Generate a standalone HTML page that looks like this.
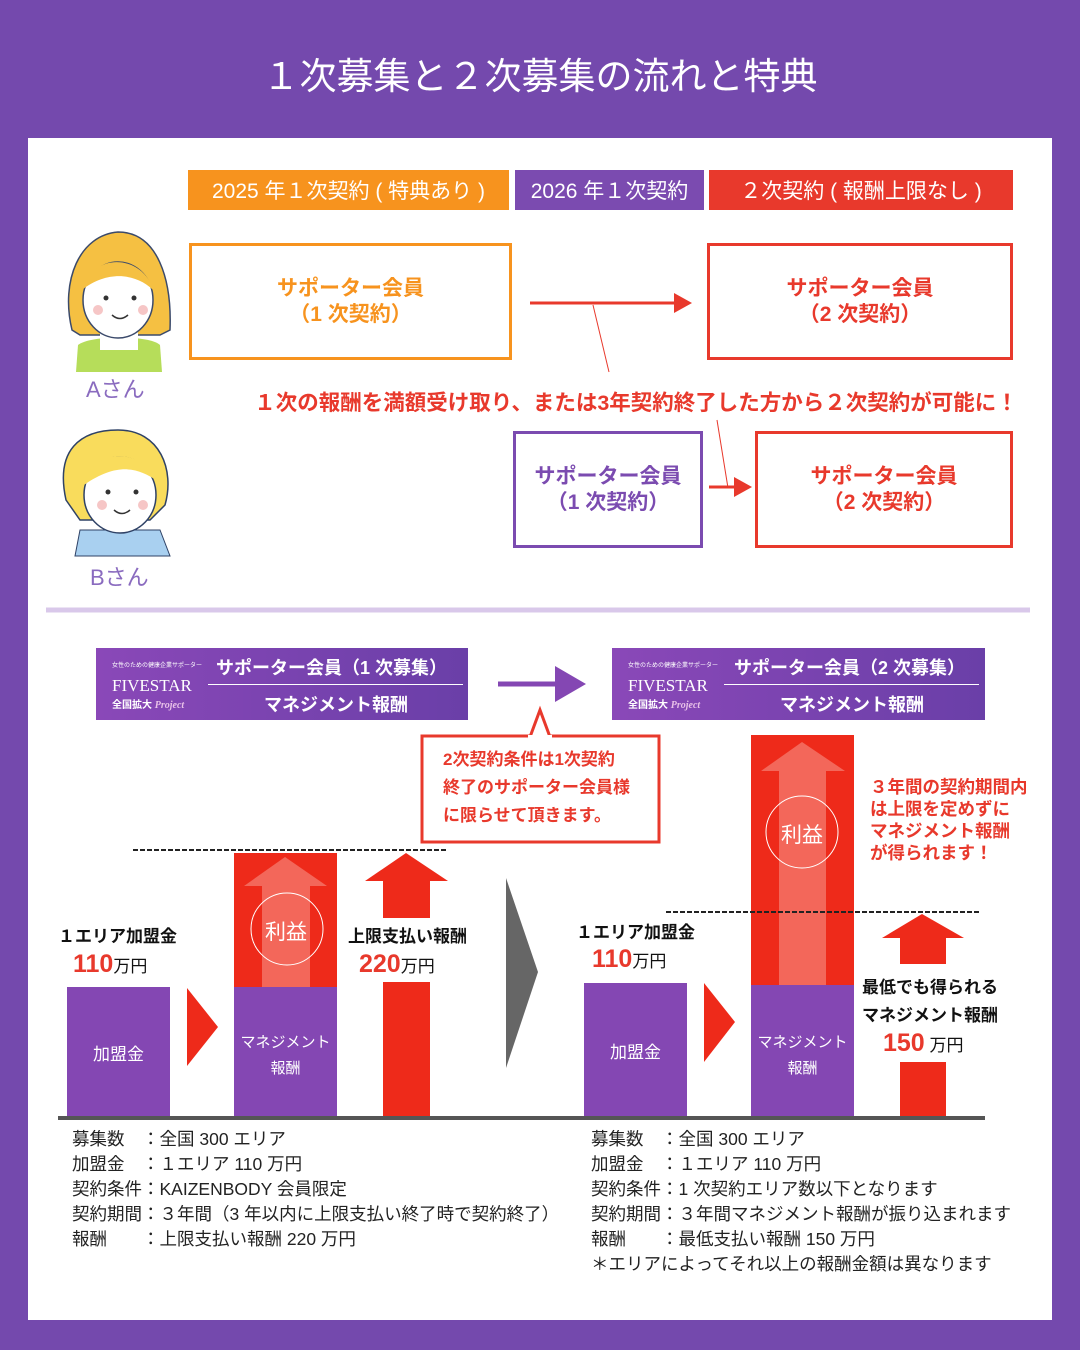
<!DOCTYPE html>
<html><head><meta charset="utf-8"><style>
*{margin:0;padding:0;box-sizing:border-box}
body{width:1080px;height:1350px;background:#7449ad;position:relative;overflow:hidden;font-family:"Liberation Sans","Noto Sans CJK JP",sans-serif}
.a{position:absolute}
.t{white-space:nowrap}
.c{display:flex;align-items:center;justify-content:center;text-align:center}
</style></head><body>
<div class="a t" style="left:0;width:1080px;top:46px;text-align:center;color:#fff;font-size:37px;">１次募集と２次募集の流れと特典</div>
<div class="a" style="left:28px;top:138px;width:1024px;height:1182px;background:#fff"></div>

<div class="a c t" style="left:188px;top:170px;width:321px;height:40px;background:#f7931e;color:#fff;font-size:21px">2025 年１次契約 ( 特典あり )</div>
<div class="a c t" style="left:515px;top:170px;width:189px;height:40px;background:#7b4bb0;color:#fff;font-size:21px">2026 年１次契約</div>
<div class="a c t" style="left:709px;top:170px;width:304px;height:40px;background:#e8392c;color:#fff;font-size:21px">２次契約 ( 報酬上限なし )</div>

<div class="a c" style="left:189px;top:243px;width:323px;height:117px;border:3px solid #f7931e;color:#f7931e;font-size:21px;font-weight:bold;line-height:26px">サポーター会員<br>（1 次契約）</div>
<div class="a c" style="left:707px;top:243px;width:306px;height:117px;border:3px solid #e8392c;color:#e8392c;font-size:21px;font-weight:bold;line-height:26px">サポーター会員<br>（2 次契約）</div>
<div class="a c" style="left:513px;top:431px;width:190px;height:117px;border:3px solid #7b4bb0;color:#7b4bb0;font-size:21px;font-weight:bold;line-height:26px">サポーター会員<br>（1 次契約）</div>
<div class="a c" style="left:755px;top:431px;width:258px;height:117px;border:3px solid #e8392c;color:#e8392c;font-size:21px;font-weight:bold;line-height:26px">サポーター会員<br>（2 次契約）</div>

<svg class="a" style="left:0;top:0" width="1080" height="1350">
<line x1="530" y1="303" x2="676" y2="303" stroke="#e8392c" stroke-width="3"/>
<polygon points="674,293 692,303 674,313" fill="#e8392c"/>
<line x1="593" y1="305" x2="609" y2="372" stroke="#e8392c" stroke-width="1"/>
<line x1="717" y1="420" x2="728" y2="488" stroke="#e8392c" stroke-width="1"/>
<line x1="709" y1="487" x2="736" y2="487" stroke="#e8392c" stroke-width="3"/>
<polygon points="734,477 752,487 734,497" fill="#e8392c"/>
<g>
<path d="M72,330 C60,280 80,235 118,232 C158,232 172,280 170,330 L160,335 L80,335 Z" fill="#f5c042" stroke="#3b4a6b" stroke-width="1.5"/>
<path d="M76,372 L78,345 C90,335 150,335 160,345 L162,372Z" fill="#b6dd5a"/>
<rect x="100" y="330" width="38" height="20" fill="#fff"/>
<ellipse cx="118" cy="300" rx="35" ry="38" fill="#fff" stroke="#3b4a6b" stroke-width="1.5"/>
<path d="M82,290 C90,255 140,250 155,292 C140,275 110,268 82,290Z" fill="#f5c042"/>
<circle cx="106" cy="298" r="2.5" fill="#333"/><circle cx="134" cy="298" r="2.5" fill="#333"/>
<circle cx="98" cy="310" r="5" fill="#f6c6c6"/><circle cx="143" cy="310" r="5" fill="#f6c6c6"/>
<path d="M112,315 Q120,322 128,315" stroke="#333" fill="none" stroke-width="1.5"/>
</g>
<g>
<path d="M66,500 C55,450 80,430 118,430 C160,430 175,470 165,505 L150,520 L80,520 Z" fill="#f9dc5c" stroke="#2f4266" stroke-width="1.5"/>
<path d="M75,556 L80,530 L160,530 L170,556Z" fill="#a9d0f0" stroke="#2f4266" stroke-width="1"/>
<ellipse cx="120" cy="495" rx="36" ry="38" fill="#fff" stroke="#2f4266" stroke-width="1.5"/>
<path d="M84,485 C90,450 140,445 156,480 C140,470 120,460 84,485Z" fill="#f9dc5c"/>
<circle cx="108" cy="492" r="2.5" fill="#333"/><circle cx="136" cy="492" r="2.5" fill="#333"/>
<circle cx="102" cy="505" r="5" fill="#f6c6c6"/><circle cx="143" cy="505" r="5" fill="#f6c6c6"/>
<path d="M114,510 Q122,517 130,510" stroke="#333" fill="none" stroke-width="1.5"/>
</g>
<line x1="46" y1="610" x2="1030" y2="610" stroke="#d9c8ea" stroke-width="5"/>
<line x1="498" y1="684" x2="560" y2="684" stroke="#8447b3" stroke-width="5"/>
<polygon points="555,666 586,684 555,702" fill="#8447b3"/>
<rect x="422" y="736" width="237" height="106" fill="#fff" stroke="#e8392c" stroke-width="3"/>
<polygon points="530,737 540,710 550,737" fill="#fff" stroke="#e8392c" stroke-width="3"/>
<rect x="528" y="735" width="24" height="4" fill="#fff"/>
<line x1="133" y1="850" x2="447" y2="850" stroke="#222" stroke-width="2" stroke-dasharray="5,2"/>
<rect x="67" y="987" width="103" height="130" fill="#8447b3"/>
<polygon points="187,988 218,1027 187,1066" fill="#ee2a1a"/>
<rect x="234" y="853" width="103" height="134" fill="#ee2a1a"/>
<rect x="234" y="987" width="103" height="130" fill="#8447b3"/>
<polygon points="244,886 285,857 327,886 310,886 310,987 262,987 262,886" fill="#f3675a"/>
<circle cx="287" cy="929" r="36" fill="none" stroke="#fff" stroke-width="1"/>
<polygon points="365,881 406,853 448,881 430,881 430,918 383,918 383,881" fill="#ee2a1a"/>
<rect x="383" y="982" width="47" height="135" fill="#ee2a1a"/>
<polygon points="506,878 538,972 506,1068" fill="#666"/>
<rect x="584" y="983" width="103" height="134" fill="#8447b3"/>
<polygon points="704,983 735,1022 704,1062" fill="#ee2a1a"/>
<rect x="751" y="735" width="103" height="250" fill="#ee2a1a"/>
<rect x="751" y="985" width="103" height="132" fill="#8447b3"/>
<polygon points="761,771 802,742 845,771 826,771 826,985 779,985 779,771" fill="#f3675a"/>
<circle cx="802" cy="832" r="36" fill="none" stroke="#fff" stroke-width="1"/>
<line x1="666" y1="912" x2="980" y2="912" stroke="#222" stroke-width="2" stroke-dasharray="5,2"/>
<polygon points="882,938 922,914 964,938 946,938 946,964 900,964 900,938" fill="#ee2a1a"/>
<rect x="900" y="1062" width="46" height="55" fill="#ee2a1a"/>
<line x1="58" y1="1118" x2="985" y2="1118" stroke="#555" stroke-width="4"/>
</svg>

<div class="a t" style="left:86px;top:372px;color:#8a6bbf;font-size:22px">Aさん</div>
<div class="a t" style="left:90px;top:560px;color:#8a6bbf;font-size:22px">Bさん</div>
<div class="a t" style="left:250px;top:386px;width:772px;text-align:center;color:#e8392c;font-size:21.5px;font-weight:bold">１次の報酬を満額受け取り、または3年契約終了した方から２次契約が可能に！</div>

<div class="a" style="left:96px;top:648px;width:372px;height:72px;background:linear-gradient(90deg,#8a48b8,#6a3fa8)">
 <div class="a t" style="left:16px;top:12px;color:#fff;font-size:6px">女性のための健康企業サポーター</div>
 <div class="a t" style="left:16px;top:28px;color:#fff;font-size:17px;font-family:'Liberation Serif',serif">FIVESTAR</div>
 <div class="a t" style="left:16px;top:48px;color:#fff;font-size:10px;font-weight:bold">全国拡大 <i style="color:#e8c0e8;font-family:'Liberation Serif',serif">Project</i></div>
 <div class="a t" style="left:120px;top:6px;color:#fff;font-size:18px;font-weight:bold">サポーター会員（1 次募集）</div>
 <div class="a" style="left:112px;top:36px;width:255px;height:1px;background:#fff"></div>
 <div class="a t" style="left:168px;top:43px;color:#fff;font-size:18px;font-weight:bold">マネジメント報酬</div>
</div>
<div class="a" style="left:612px;top:648px;width:373px;height:72px;background:linear-gradient(90deg,#8a48b8,#6a3fa8)">
 <div class="a t" style="left:16px;top:12px;color:#fff;font-size:6px">女性のための健康企業サポーター</div>
 <div class="a t" style="left:16px;top:28px;color:#fff;font-size:17px;font-family:'Liberation Serif',serif">FIVESTAR</div>
 <div class="a t" style="left:16px;top:48px;color:#fff;font-size:10px;font-weight:bold">全国拡大 <i style="color:#e8c0e8;font-family:'Liberation Serif',serif">Project</i></div>
 <div class="a t" style="left:122px;top:6px;color:#fff;font-size:18px;font-weight:bold">サポーター会員（2 次募集）</div>
 <div class="a" style="left:112px;top:36px;width:255px;height:1px;background:#fff"></div>
 <div class="a t" style="left:168px;top:43px;color:#fff;font-size:18px;font-weight:bold">マネジメント報酬</div>
</div>

<div class="a t" style="left:443px;top:746px;color:#e8392c;font-size:17px;font-weight:bold;line-height:28px">2次契約条件は1次契約<br>終了のサポーター会員様<br>に限らせて頂きます。</div>
<div class="a t" style="left:870px;top:776px;color:#e8392c;font-size:17.5px;font-weight:bold;line-height:22px">３年間の契約期間内<br>は上限を定めずに<br>マネジメント報酬<br>が得られます！</div>

<div class="a t" style="left:58px;top:922px;font-size:17px;font-weight:bold;color:#111">１エリア加盟金</div>
<div class="a t" style="left:73px;top:950px;color:#111;font-size:17px"><b style="color:#e8392c;font-size:25px">110</b>万円</div>
<div class="a c" style="left:67px;top:987px;width:103px;height:130px;color:#fff;font-size:17px">加盟金</div>
<div class="a t" style="left:265px;top:916px;color:#fff;font-size:21px">利益</div>
<div class="a c" style="left:234px;top:1030px;width:103px;color:#fff;font-size:15px;line-height:26px">マネジメント<br>報酬</div>
<div class="a t" style="left:348px;top:922px;font-size:17px;font-weight:bold;color:#111">上限支払い報酬</div>
<div class="a t" style="left:359px;top:950px;color:#111;font-size:17px"><b style="color:#e8392c;font-size:25px">220</b>万円</div>
<div class="a t" style="left:576px;top:918px;font-size:17px;font-weight:bold;color:#111">１エリア加盟金</div>
<div class="a t" style="left:592px;top:945px;color:#111;font-size:17px"><b style="color:#e8392c;font-size:25px">110</b>万円</div>
<div class="a c" style="left:584px;top:983px;width:103px;height:134px;color:#fff;font-size:17px">加盟金</div>
<div class="a t" style="left:781px;top:819px;color:#fff;font-size:21px">利益</div>
<div class="a c" style="left:751px;top:1030px;width:103px;color:#fff;font-size:15px;line-height:26px">マネジメント<br>報酬</div>
<div class="a t" style="left:862px;top:974px;font-size:17px;font-weight:bold;color:#111;line-height:28px">最低でも得られる<br>マネジメント報酬</div>
<div class="a t" style="left:883px;top:1029px;color:#111;font-size:17px"><b style="color:#e8392c;font-size:25px">150</b> 万円</div>

<div class="a t" style="left:72px;top:1127px;font-size:17.5px;line-height:25px;color:#222">募集数　：全国 300 エリア<br>加盟金　：１エリア 110 万円<br>契約条件：KAIZENBODY 会員限定<br>契約期間：３年間（3 年以内に上限支払い終了時で契約終了）<br>報酬　　：上限支払い報酬 220 万円</div>
<div class="a t" style="left:591px;top:1127px;font-size:17.5px;line-height:25px;color:#222">募集数　：全国 300 エリア<br>加盟金　：１エリア 110 万円<br>契約条件：1 次契約エリア数以下となります<br>契約期間：３年間マネジメント報酬が振り込まれます<br>報酬　　：最低支払い報酬 150 万円<br>＊エリアによってそれ以上の報酬金額は異なります</div>
</body></html>
